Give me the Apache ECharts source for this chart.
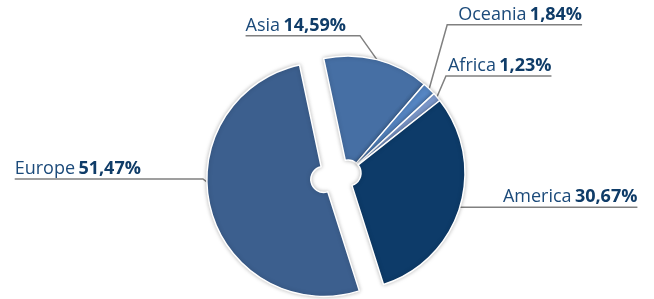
<!DOCTYPE html>
<html>
<head>
<meta charset="utf-8">
<script src="https://cdn.jsdelivr.net/npm/echarts@6/dist/echarts.min.js"></script>
<style>
  html, body { margin: 0; padding: 0; background: #fff; }
  #chart { width: 654px; height: 299px; }
</style>
</head>
<body>
<div id="chart"></div>
<script>
// 数据
var regions = ['Asia', 'Oceania', 'Africa', 'America', 'Europe'];
var shares = [14.59, 1.84, 1.23, 30.67, 51.47];
var shareLabels = ['14,59%', '1,84%', '1,23%', '30,67%', '51,47%'];
var exploded = 'Europe';

// 颜色 / 标签折线（相对扇区锚点的偏移）
var colors = ['#466fa4', '#5686c3', '#7f9cd0', '#0d3b69', '#3c5f8e'];
var elbows = {
  Asia:    { dx: -17, dy: -24, dir: -1, gap: 14 },
  Oceania: { dx: 18,  dy: -64, dir: 1,  gap: 11 },
  Africa:  { dx: 9,   dy: -21, dir: 1,  gap: 2 },
  America: { dx: 8,   dy: 0,   dir: 1,  gap: 35 },
  Europe:  { dx: -32, dy: -24, dir: -1, gap: 62 }
};

var myChart = echarts.init(document.getElementById('chart'));

function labelText(i) {
  return '{n|' + regions[i] + '} {v|' + shareLabels[i] + '}';
}

function layoutLabel(params) {
  var pts = params.labelLinePoints;
  if (!pts || !pts[0]) return {};
  var e = elbows[regions[params.dataIndex]];
  var p0 = pts[0];
  var p1 = [p0[0] + e.dx, p0[1] + e.dy];
  var w = params.labelRect.width;
  var p2 = [p1[0] + e.dir * (e.gap + w), p1[1]];
  return {
    x: p1[0] + e.dir * e.gap,
    y: p1[1],
    align: e.dir < 0 ? 'right' : 'left',
    verticalAlign: 'bottom',
    labelLinePoints: [p0, p1, p2]
  };
}

var labelStyle = {
  show: true,
  position: 'outside',
  padding: [0, 0, 1, 0],
  rich: {
    n: { fontSize: 18, color: '#1b4a7a', fontFamily: 'Open Sans' },
    v: { fontSize: 18, color: '#0f3c68', fontWeight: 'bold', fontFamily: 'Open Sans' }
  }
};
var lineStyle = { show: true, length: 10, length2: 10, lineStyle: { color: '#808080', width: 1.5 } };

// 扇区（Europe 拉出）
var sliceData = regions.map(function (name, i) {
  var isOut = name === exploded;
  return {
    name: name,
    value: shares[i],
    selected: isOut,
    label: { show: !isOut, formatter: labelText(i) },
    labelLine: { show: !isOut },
    itemStyle: { color: colors[i] }
  };
});

// 拉出扇区的标签（放在未拉出的位置上）
var ghostData = regions.map(function (name, i) {
  var isOut = name === exploded;
  return {
    name: name,
    value: shares[i],
    label: { show: isOut, formatter: labelText(i) },
    labelLine: { show: isOut },
    itemStyle: { color: 'rgba(0,0,0,0)' }
  };
});

var common = {
  type: 'pie',
  center: [348, 173],
  radius: [13, 117],
  startAngle: 102,
  clockwise: true,
  label: labelStyle,
  labelLine: lineStyle,
  labelLayout: layoutLabel
};

myChart.setOption({
  animation: false,
  series: [
    Object.assign({}, common, {
      z: 1,
      silent: true,
      itemStyle: { borderWidth: 0 },
      data: ghostData
    }),
    Object.assign({}, common, {
      z: 2,
      selectedMode: 'single',
      selectedOffset: 25,
      itemStyle: {
        borderColor: '#fff',
        borderWidth: 1.5,
        shadowBlur: 4,
        shadowColor: 'rgba(0,0,0,0.25)'
      },
      data: sliceData
    })
  ]
});
</script>
</body>
</html>
